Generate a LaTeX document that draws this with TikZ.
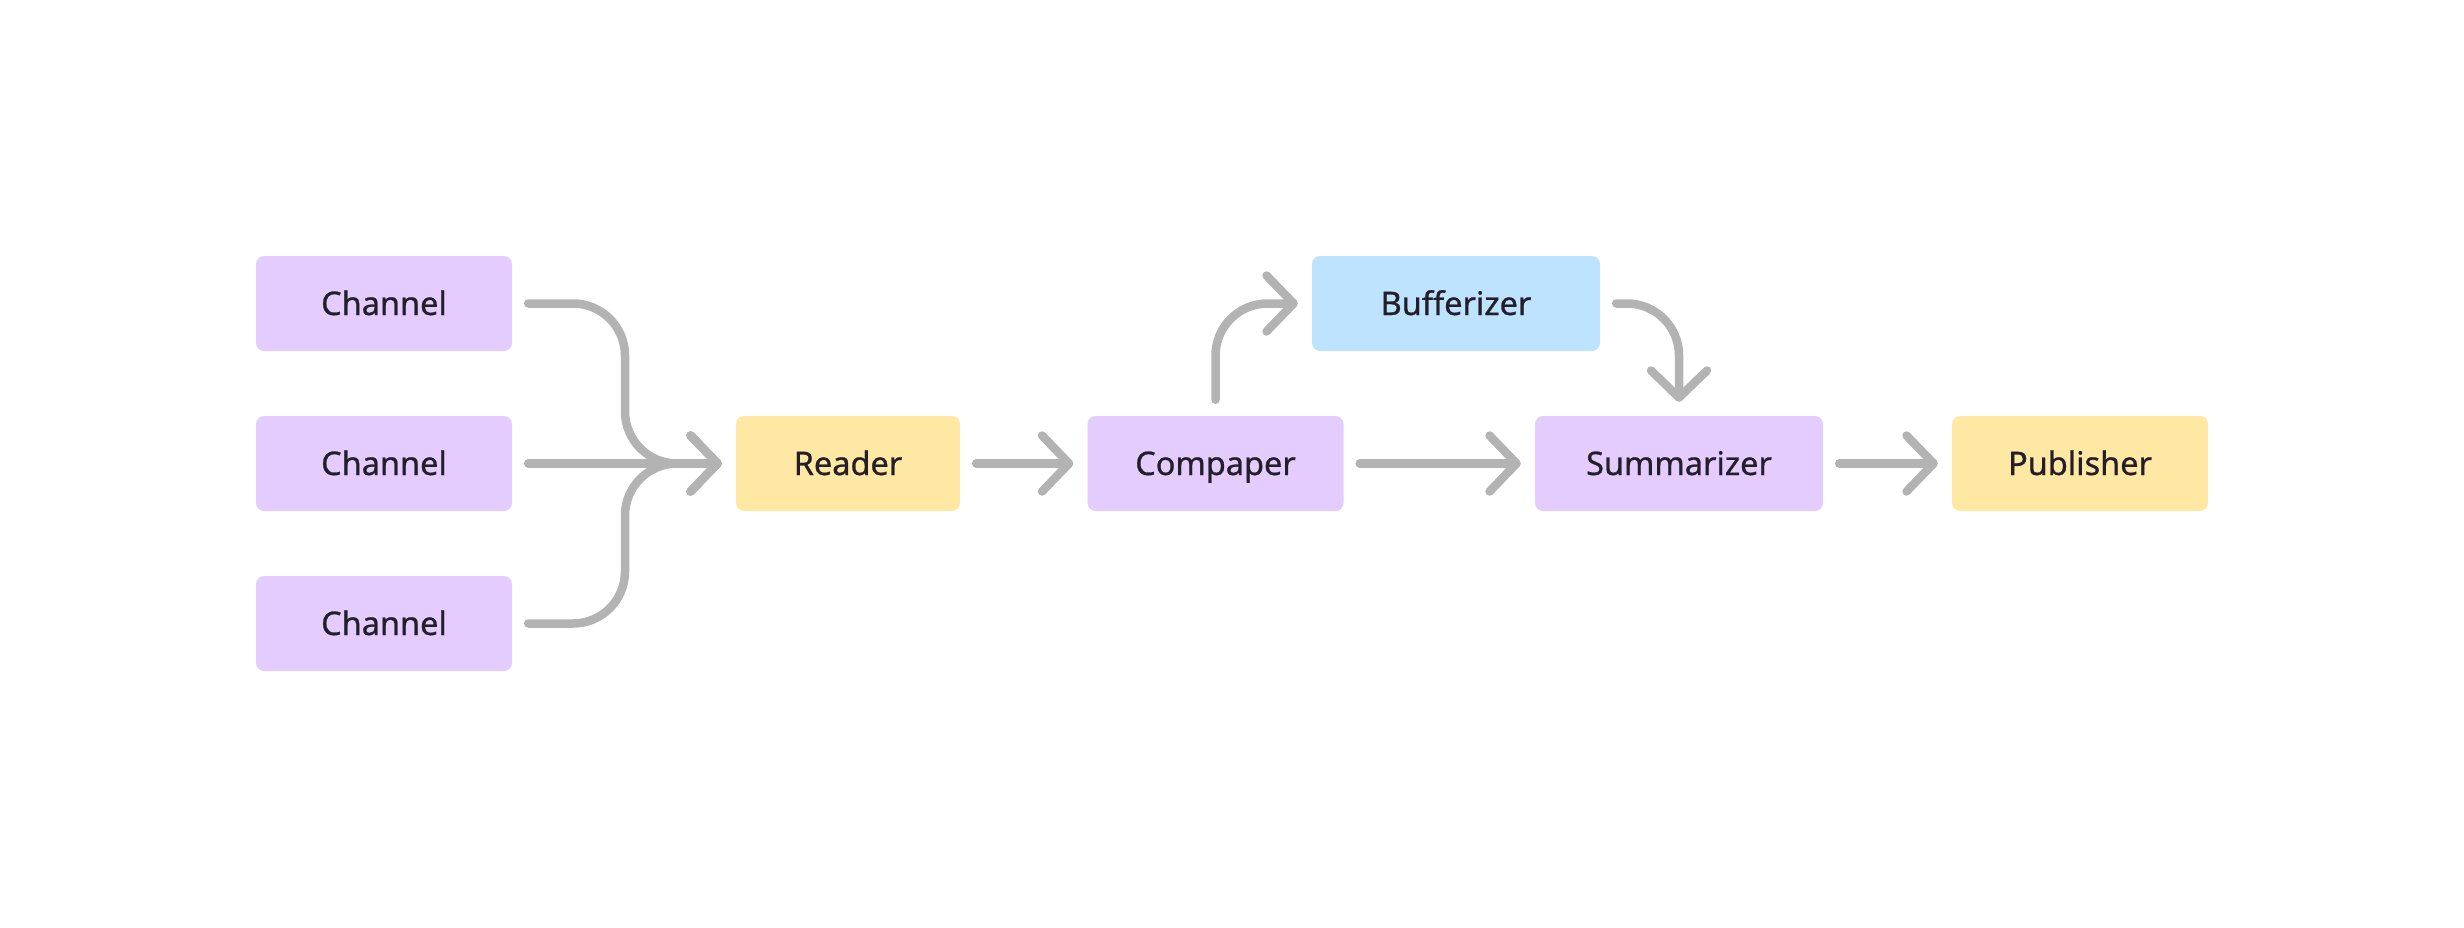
\documentclass[tikz,border=0pt]{standalone}
\usepackage{fontspec}
\setmainfont{Noto Sans}[FakeBold=0.8]
\usetikzlibrary{arrows.meta}
\definecolor{boxpurple}{HTML}{E4CCFF}
\definecolor{boxblue}{HTML}{BDE3FF}
\definecolor{boxyellow}{HTML}{FFE8A3}
\definecolor{linegray}{HTML}{B3B3B3}
\definecolor{txt}{HTML}{241E28}
\tikzset{
  blk/.style={draw=none, rounded corners=8pt, inner sep=0pt, minimum height=95pt,
    text=txt, font=\fontsize{32.5}{38}\selectfont, text height=23pt, text depth=0pt},
  purp/.style={blk, fill=boxpurple},
  blu/.style={blk, fill=boxblue},
  yel/.style={blk, fill=boxyellow},
  conn/.style={draw=linegray, line width=8.5pt, line cap=round, line join=round,
    rounded corners=52pt, shorten <=16pt, shorten >=14pt,
    -{Straight Barb[length=27pt,width=56pt,line cap=round,line join=round]}},
}
\begin{document}
\begin{tikzpicture}[x=1pt,y=-1pt]
\useasboundingbox (0,0) rectangle (2464,928);
\node[purp, minimum width=256pt] (c1) at (384,303.5) {Channel};
\node[purp, minimum width=256pt] (c2) at (384,463.5) {Channel};
\node[purp, minimum width=256pt] (c3) at (384,623.5) {Channel};
\node[yel, minimum width=224pt] (reader) at (848,463.5) {Reader};
\node[purp, minimum width=256pt] (comp) at (1215.5,463.5) {Compaper};
\node[blu, minimum width=288pt] (buff) at (1456,303.5) {Bufferizer};
\node[purp, minimum width=288pt] (summ) at (1679,463.5) {Summarizer};
\node[yel, minimum width=256pt] (pub) at (2080,463.5) {Publisher};
\coordinate (m) at (625,463.5);
\draw[conn] (c1.east) -| (m) -- (reader.west);
\draw[conn] (c3.east) -| (m) -- (reader.west);
\draw[conn] (c2.east) -- (reader.west);
\draw[conn] (reader.east) -- (comp.west);
\draw[conn] (comp.north) |- (buff.west);
\draw[conn] (buff.east) -| (summ.north);
\draw[conn] (comp.east) -- (summ.west);
\draw[conn] (summ.east) -- (pub.west);
\end{tikzpicture}
\end{document}
